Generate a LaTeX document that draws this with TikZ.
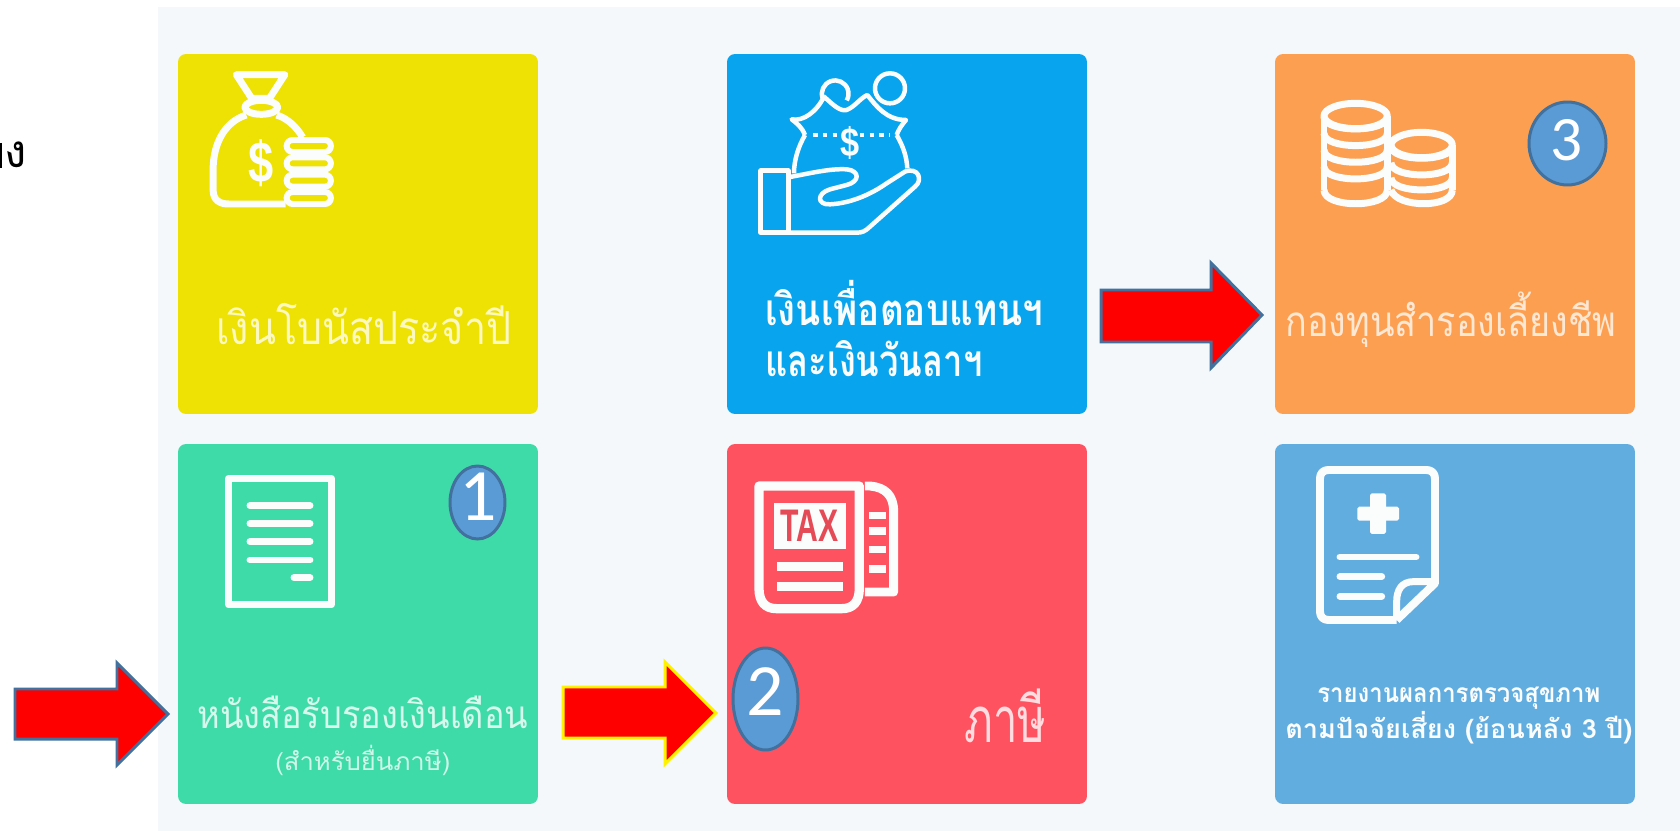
\documentclass[tikz,border=0pt]{standalone}
\usepackage{graphicx}
\usepackage{fontspec}
\setmainfont{Liberation Sans}
\newfontfamily\thaifont[Script=Thai]{Loma}
\newfontfamily\numfont{Carlito}
\newfontfamily\iconfont{Liberation Sans}
\definecolor{panel}{HTML}{F5F8FB}
\definecolor{cyellow}{HTML}{EEE104}
\definecolor{cblue}{HTML}{08A4EE}
\definecolor{corange}{HTML}{FD9F50}
\definecolor{cgreen}{HTML}{3EDBA8}
\definecolor{cred}{HTML}{FF5261}
\definecolor{csteel}{HTML}{62ADE0}
\definecolor{bubble}{HTML}{5B9BD5}
\definecolor{bubbleedge}{HTML}{41719C}
\definecolor{icon}{HTML}{FBFCFC}
\newcommand{\fitw}[2]{\resizebox{\dimexpr #1\dimexpr 0.02cm\relax\relax}{\height}{#2}}
\tikzset{
  lw/.style={line width=#1*0.5669pt},
  card/.style={rectangle,rounded corners=4.5pt,minimum width=7.2cm,minimum height=7.2cm,inner sep=0pt,fill=#1},
  bubblenode/.style={ellipse,draw=bubbleedge,fill=bubble,lw=3,inner sep=0pt},
  digit/.style={inner sep=0pt,text=white,font=\numfont\fontsize{#1}{#1}\selectfont},
  redarrow/.style={fill=red,draw=bubbleedge,lw=3,miter limit=10},
  yarrow/.style={fill=red,draw=yellow,lw=3,miter limit=10},
  stroke/.style={draw=icon,lw=#1,line join=round},
  bar/.style={draw=icon,lw=#1,line cap=round},
  blk/.style={fill=icon,draw=none},
  label/.style={anchor=base west,inner sep=0pt,font=\thaifont\fontsize{#1}{#1}\selectfont},
  zoomed/.style={x=0.0066667cm,y=-0.0066667cm},
}
\usetikzlibrary{shapes.geometric}
\begin{document}
\begin{tikzpicture}[x=0.02cm,y=-0.02cm]
\useasboundingbox (0,0) rectangle (1680,831);
\clip (0,0) rectangle (1680,831);
\fill[white] (0,0) rectangle (1680,831);
\fill[panel] (158,7) rectangle (1680,831);
% cards
\node[card=cyellow] (c1) at (358,234) {};
\node[card=cblue]   (c2) at (907,234) {};
\node[card=corange] (c3) at (1455,234) {};
\node[card=cgreen]  (c4) at (358,624) {};
\node[card=cred]    (c5) at (907,624) {};
\node[card=csteel]  (c6) at (1455,624) {};

% money bag icon
\begin{scope}[x=0.0071429cm,y=-0.0066667cm]
  \draw[stroke=7] (662,224) -- (798,224) -- (755,295) -- (705,295) -- cycle;
  \draw[stroke=7] (732,322) ellipse (46 and 21);
  \draw[stroke=7] (690,345) .. controls (630,365) and (597,430) .. (597,510) -- (597,570) .. controls (597,600) and (615,612) .. (640,612) -- (800,612);
  \draw[stroke=7] (775,345) .. controls (805,355) and (830,380) .. (848,412);
  \foreach \yy in {420,472,524,576}{
    \draw[stroke=6,rounded corners=3.4pt] (803,\yy) rectangle (927,\yy+36);
  }
  \node[inner sep=0pt,text=icon,xscale=0.78,font=\iconfont\bfseries\fontsize{33}{33}\selectfont] (dollar1) at (732,490) {\$};
\end{scope}

% hand with bag icon
\begin{scope}[shift={(670,40)},zoomed]
  \draw[stroke=4.5] (660,145) circle (45);
  \draw[stroke=4.5] (458,175) arc (160:390:40);
  \draw[stroke=4.5] (405,285) .. controls (395,260) and (380,250) .. (365,238) .. controls (400,245) and (440,215) .. (462,170) .. controls (490,195) and (510,215) .. (530,210) .. controls (555,200) and (570,175) .. (592,165) .. controls (620,200) and (650,240) .. (708,240) .. controls (695,255) and (685,270) .. (680,285);
  \draw[stroke=4.5] (405,285) .. controls (385,320) and (372,360) .. (372,400);
  \draw[stroke=4.5] (680,285) .. controls (700,320) and (710,350) .. (712,385);
  \draw[draw=icon,lw=4,dash pattern=on 2.5pt off 3pt] (430,285) -- (510,285);
  \draw[draw=icon,lw=4,dash pattern=on 2.5pt off 3pt] (570,285) -- (660,285);
  \node[inner sep=0pt,text=icon,xscale=0.85,font=\iconfont\bfseries\fontsize{23}{23}\selectfont] (dollar2) at (540,308) {\$};
  \draw[stroke=4.5] (272,392) rectangle (355,578);
  \draw[stroke=4.5] (355,412) .. controls (420,400) and (480,385) .. (530,388) .. controls (570,392) and (570,425) .. (530,435) -- (480,448) .. controls (440,460) and (440,495) .. (480,493) .. controls (540,490) and (600,465) .. (650,430) -- (705,395) .. controls (745,380) and (760,420) .. (735,440) -- (600,560) .. controls (585,575) and (575,578) .. (560,578) -- (355,578);
\end{scope}

% coins icon
\begin{scope}[shift={(1180,40)},zoomed]
  \draw[stroke=7] (527,228) ellipse (95 and 38);
  \draw[stroke=7] (432,228) -- (432,450);
  \draw[stroke=7] (622,228) -- (622,450);
  \foreach \yy in {262,312,362,412}{
    \draw[stroke=7] (432,\yy-32) .. controls (432,\yy+17) and (622,\yy+17) .. (622,\yy-32);
  }
  \draw[stroke=7] (432,450) .. controls (432,505) and (622,505) .. (622,450);
  \draw[stroke=7] (725,315) ellipse (92 and 38);
  \draw[stroke=7] (817,315) -- (817,450);
  \foreach \yy in {350,400,445}{
    \draw[stroke=7] (633,\yy-32) .. controls (633,\yy+17) and (817,\yy+17) .. (817,\yy-32);
  }
  \draw[stroke=7] (633,450) .. controls (650,505) and (817,505) .. (817,450);
\end{scope}

% document icon
\begin{scope}[shift={(0,410)},zoomed]
  \draw[stroke=7.5] (686,206) rectangle (994,584);
  \foreach \yy in {287,341,395,450}{\draw[bar=7] (750,\yy) -- (930,\yy);}
  \draw[bar=7] (882,503) -- (930,503);
\end{scope}

% tax icon
\begin{scope}[shift={(510,410)},zoomed]
  \draw[stroke=9.3] (747,228) -- (1048,228) -- (1048,535) .. controls (1048,575) and (1030,596) .. (995,596) -- (800,596) .. controls (765,596) and (747,575) .. (747,535) -- cycle;
  \fill[blk] (792,280) rectangle (1008,418);
  \node[inner sep=0pt,text=cred!90!black,font=\iconfont\bfseries\fontsize{26}{26}\selectfont,xscale=0.66] (taxword) at (899,348) {TAX};
  \fill[blk] (800,455) rectangle (1000,482);
  \fill[blk] (800,515) rectangle (1000,542);
  \draw[stroke=9] (1065,228) -- (1080,228) .. controls (1125,232) and (1151,255) .. (1151,305) -- (1151,546) -- (1065,546);
  \foreach \yy in {305,352,407,465}{\fill[blk] (1078,\yy) rectangle (1127,\yy+23);}
\end{scope}

% health report icon
\begin{scope}[shift={(1180,410)},zoomed]
  \draw[stroke=8] (650,630) -- (445,630) .. controls (430,630) and (420,620) .. (420,605) -- (420,205) .. controls (420,190) and (430,180) .. (445,180) -- (740,180) .. controls (755,180) and (765,190) .. (765,205) -- (765,520) -- (650,630);
  \draw[stroke=7] (765,515) -- (700,515) .. controls (665,515) and (650,540) .. (650,575) -- (650,630);
  \fill[blk,rounded corners=1pt] (570,250) rectangle (618,372);
  \fill[blk,rounded corners=1pt] (532,290) rectangle (657,332);
  \draw[bar=7] (480,441) -- (708,441);
  \draw[bar=7] (480,500) -- (605,500);
  \draw[bar=7] (480,559) -- (605,559);
\end{scope}

% labels
\node[label=26,text=white!75!cyellow] (t1) at (216,344) {\fitw{295}{เงินโบนัสประจำปี}};
\node[label=25,text=icon] (t2) at (765,325) {\fitw{278}{\bfseries เงินเพื่อตอบแทนฯ}};
\node[label=25,text=icon] (t2b) at (765,376) {\fitw{217}{\bfseries และเงินวันลาฯ}};
\node[label=24,text=white!75!corange] (t3) at (1285,337) {\fitw{331}{กองทุนสำรองเลี้ยงชีพ}};
\node[label=22,text=white!80!cgreen] (t4) at (197,728) {\fitw{331}{หนังสือรับรองเงินเดือน}};
\node[label=14,text=white!75!cgreen] (t4b) at (275,770) {\fitw{175}{(สำหรับยื่นภาษี)}};
\node[label=36,text=white!80!cred] (t5) at (964,742) {\fitw{82}{ภาษี}};
\node[label=15,text=icon] (t6) at (1317,702) {\fitw{283}{\bfseries รายงานผลการตรวจสุขภาพ}};
\node[label=15,text=icon] (t6b) at (1285,738) {\fitw{347}{\bfseries ตามปัจจัยเสี่ยง (ย้อนหลัง 3 ปี)}};
\node[label=26,text=black,anchor=base east] (t0) at (27,168) {ง};
\draw[black,lw=2] (1,143) -- (1,168);

% arrows
\draw[redarrow] (1101,290) -- (1211,290) -- (1211,263) -- (1262,315) -- (1211,368) -- (1211,342) -- (1101,342) -- cycle;
\draw[redarrow] (15,689) -- (117,689) -- (117,663) -- (168,714) -- (117,765) -- (117,739) -- (15,739) -- cycle;
\draw[yarrow] (563,687) -- (665,687) -- (665,662) -- (716,713) -- (665,764) -- (665,738) -- (563,738) -- cycle;

% numbered bubbles
\node[bubblenode,minimum width=1.1cm,minimum height=1.46cm] (b1) at (477.5,502.5) {};
\node[digit=42] (n1) at (478,497) {1};
\node[bubblenode,minimum width=1.3cm,minimum height=2.04cm] (b2) at (765.5,699) {};
\node[digit=42] (n2) at (765,692) {2};
\node[bubblenode,minimum width=1.54cm,minimum height=1.66cm] (b3) at (1567.5,143.5) {};
\node[digit=36] (n3) at (1567,140) {3};
\end{tikzpicture}
\end{document}
